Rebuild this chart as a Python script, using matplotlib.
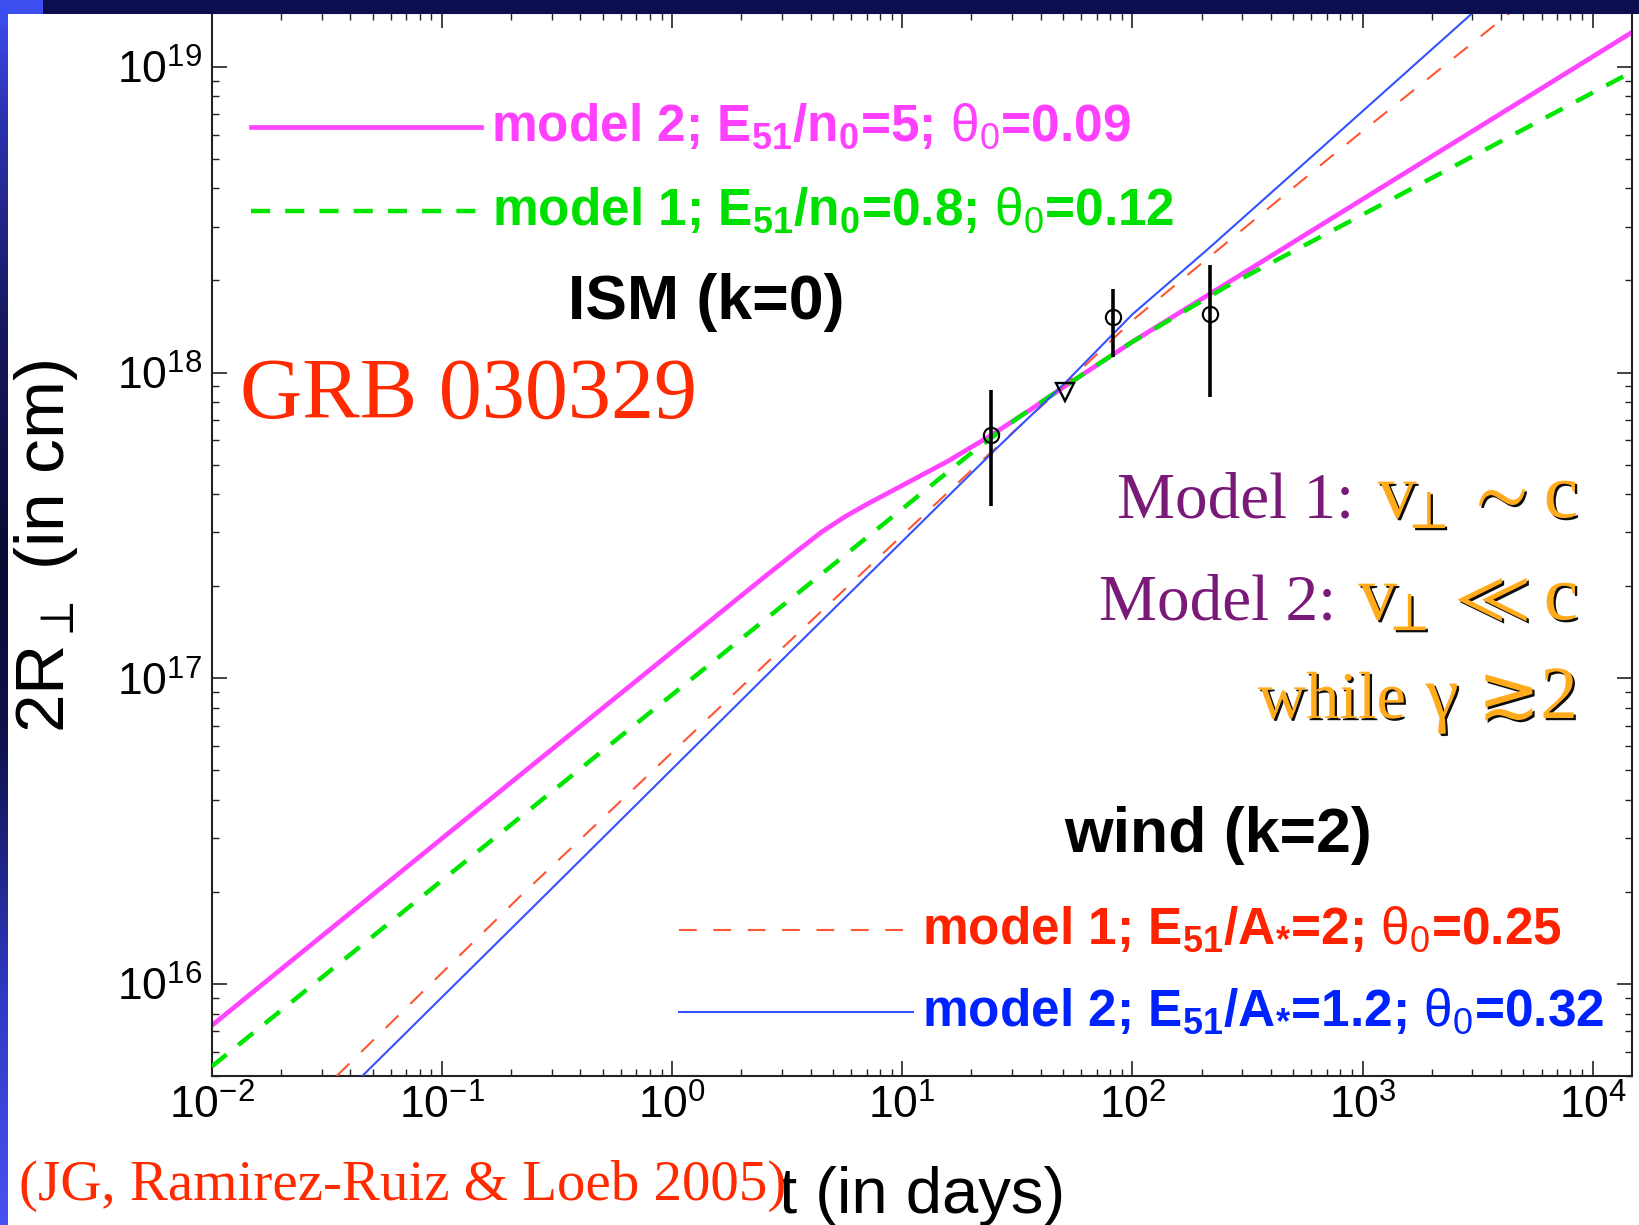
import numpy as np
import matplotlib
matplotlib.use('Agg')
import matplotlib.pyplot as plt
import matplotlib.patheffects as pe
from matplotlib.patches import Rectangle
from matplotlib.ticker import LogLocator, NullFormatter

plt.rcParams['font.family'] = ['Liberation Sans', 'DejaVu Sans']
plt.rcParams['mathtext.fontset'] = 'custom'
plt.rcParams['mathtext.rm'] = 'Liberation Serif'
plt.rcParams['mathtext.sf'] = 'Liberation Sans'
plt.rcParams['mathtext.default'] = 'regular'
plt.rcParams['mathtext.fallback'] = 'stix'

# ISM, model 2 (E51/n0=5, theta0=0.09): t in days, 2R in cm
t_ism2 = [0.01, 0.1, 1.0, 2.51, 3.55, 4.47, 5.62, 7.08, 10.0, 15.8, 24.4, 35.5, 50.9, 100, 210, 14900]
R_ism2 = [7.31e15, 2.99e16, 1.22e17, 2.14e17, 2.63e17, 3.01e17, 3.37e17, 3.72e17, 4.27e17,
          5.13e17, 6.24e17, 7.50e17, 9.02e17, 1.26e18, 1.78e18, 1.30e19]

# ISM, model 1 (E51/n0=0.8, theta0=0.12)
t_ism1 = [0.01, 0.1, 1.0, 10.0, 19.1, 31.6, 50.9, 100, 256, 1315, 14860]
R_ism1 = [5.37e15, 2.18e16, 8.83e16, 3.58e17, 5.31e17, 7.08e17, 9.02e17, 1.26e18, 1.91e18,
          3.66e18, 9.64e18]

# wind, model 1 (E51/A*=2, theta0=0.25)
t_wind1 = [0.0349, 0.218, 3.48, 19.7, 50.9, 100, 759, 4365]
R_wind1 = [5.0e15, 1.93e16, 1.39e17, 4.74e17, 9.12e17, 1.48e18, 5.21e18, 1.50e19]

# wind, model 2 (E51/A*=1.2, theta0=0.32)
t_wind2 = [0.0451, 0.267, 3.37, 26.1, 50.9, 100, 210, 631, 3006]
R_wind2 = [5.0e15, 1.88e16, 1.25e17, 5.71e17, 9.23e17, 1.55e18, 2.51e18, 5.25e18, 1.50e19]

# VLBI size measurements and the upper limit
t_obs = [24.3, 82.6, 217]
R_obs = [6.25e17, 1.52e18, 1.55e18]
R_lo = [3.66e17, 1.12e18, 8.34e17]
R_hi = [8.77e17, 1.88e18, 2.25e18]
t_lim = [50.9]
R_lim = [8.65e17]

xlim = (0.01, 1.486e4)
ylim = (5.0e15, 1.496e19)

c_pink = '#ff45ff'
c_green = '#00e600'
c_red = '#ff5533'
c_blue = '#3352ff'

fig = plt.figure(figsize=(16.39, 12.25), dpi=100)
fig.patch.set_facecolor('white')

# slide decoration: dark bar on top, blue strip on the left
fig.patches.append(Rectangle((0, 1 - 14 / 1225), 1, 14 / 1225, transform=fig.transFigure,
                             facecolor='#0c0f4f', edgecolor='none', zorder=0))
fig.patches.append(Rectangle((0, 1 - 14 / 1225), 43 / 1639, 14 / 1225, transform=fig.transFigure,
                             facecolor='#3c4ef0', edgecolor='none', zorder=0))
strip = fig.add_axes([0, 0, 8 / 1639, 1 - 14 / 1225])
stops = np.array([0.0, 0.08, 0.25, 0.45, 0.6, 0.8, 1.0])
cols = np.array([[0.24, 0.30, 0.93], [0.17, 0.20, 0.70], [0.09, 0.10, 0.38], [0.04, 0.04, 0.20],
                 [0.06, 0.07, 0.30], [0.18, 0.22, 0.75], [0.28, 0.32, 0.95]])
yy = np.linspace(0, 1, 300)
grad = np.stack([np.interp(yy, stops, cols[:, k]) for k in range(3)], axis=1)[:, None, :]
strip.imshow(grad, aspect='auto', extent=(0, 1, 0, 1))
strip.axis('off')

ax = fig.add_axes([211.7 / 1639, 1 - 1076 / 1225, 1420.6 / 1639, 1062.7 / 1225])
ax.set_xscale('log')
ax.set_yscale('log')

ax.plot(t_ism2, R_ism2, color=c_pink, lw=3.4, solid_capstyle='butt', zorder=2)
ax.plot(t_ism1, R_ism1, color=c_green, lw=3.2, linestyle=(0, (4.3, 3.4)), zorder=3)
ax.plot(t_wind1, R_wind1, color=c_red, lw=1.5, linestyle=(0, (8.5, 8)), zorder=3)
ax.plot(t_wind2, R_wind2, color=c_blue, lw=1.5, zorder=3)

yerr = [np.array(R_obs) - np.array(R_lo), np.array(R_hi) - np.array(R_obs)]
ax.errorbar(t_obs, R_obs, yerr=yerr, fmt='o', ms=11, mfc='none', mec='k', mew=1.5,
            ecolor='k', elinewidth=2.6, capsize=0, zorder=5)
ax.plot(t_lim, R_lim, 'v', ms=13, mfc='none', mec='k', mew=1.7, zorder=5)

ax.set_xlim(*xlim)
ax.set_ylim(*ylim)

for axis in (ax.xaxis, ax.yaxis):
    axis.set_major_locator(LogLocator(base=10, numticks=20))
    axis.set_minor_locator(LogLocator(base=10, subs=np.arange(2, 10), numticks=200))
    axis.set_minor_formatter(NullFormatter())
ax.tick_params(which='both', direction='in', top=True, right=True, colors='#222222')
ax.tick_params(which='major', length=10.8, width=1.2, labelsize=32, pad=7, labelcolor='black')
ax.tick_params(which='minor', length=5, width=1.0)
ax.tick_params(axis='x', which='major', pad=6)
for sp in ax.spines.values():
    sp.set_linewidth(1.5)
    sp.set_color('#222222')

# legend samples and labels
ax.plot([0.0279, 0.1897], [0.8926, 0.8926], transform=ax.transAxes, color=c_pink, lw=3.4)
ax.plot([0.0279, 0.1897], [0.8143, 0.8143], transform=ax.transAxes, color=c_green, lw=3.2,
        linestyle=(0, (4.3, 3.4)))
ax.plot([0.3289, 0.4895], [0.1374, 0.1374], transform=ax.transAxes, color=c_red, lw=1.5,
        linestyle=(0, (8.5, 8)))
ax.plot([0.3289, 0.4936], [0.0602, 0.0602], transform=ax.transAxes, color=c_blue, lw=1.5)

leg_kw = dict(transform=ax.transAxes, fontsize=37, fontweight='bold', va='baseline', ha='left')
ax.text(0.1966, 0.8798, r"model 2; $E_{51}$/$n_0$=5; $\mathsf{\theta_0}$=0.09", color='#ff40ff', **leg_kw)
ax.text(0.1973, 0.8015, r"model 1; $E_{51}$/$n_0$=0.8; $\mathsf{\theta_0}$=0.12", color='#00e000', **leg_kw)
ax.text(0.5, 0.1247, r"model 1; $E_{51}$/$A_{*}$=2; $\mathsf{\theta_0}$=0.25", color='#ff2200', **leg_kw)
ax.text(0.5, 0.0475, r"model 2; $E_{51}$/$A_{*}$=1.2; $\mathsf{\theta_0}$=0.32", color='#0022ff', **leg_kw)

ax.text(0.2508, 0.7123, "ISM (k=0)", transform=ax.transAxes, fontsize=45, fontweight='bold',
        va='baseline', ha='left', color='black')
ax.text(0.6, 0.2108, "wind (k=2)", transform=ax.transAxes, fontsize=45, fontweight='bold',
        va='baseline', ha='left', color='black')

ax.text(0.02, 0.6192, "GRB 030329", transform=ax.transAxes, fontsize=62, color='#ff2a00',
        family='Liberation Serif', va='baseline', ha='left')

# velocity notes on the right
purple = '#7a1a78'
orange = '#ffab1c'
shadow = [pe.SimplePatchShadow(offset=(1.6, -1.6), shadow_rgbFace='black', alpha=0.95), pe.Normal()]
serif = dict(transform=ax.transAxes, va='baseline', family='Liberation Serif')
ax.text(0.8041, 0.5251, "Model 1:", color=purple, fontsize=47, ha='right', **serif)
ax.text(0.9617, 0.5251, r"$v_{\!\!\perp}\sim c$", color=orange, fontsize=56, ha='right',
        path_effects=shadow, **serif)
ax.text(0.7914, 0.4291, "Model 2:", color=purple, fontsize=47, ha='right', **serif)
ax.text(0.9617, 0.4291, r"$v_{\!\!\perp}\ll c$", color=orange, fontsize=56, ha='right',
        path_effects=shadow, **serif)
ax.text(0.8407, 0.3369, "while", color=orange, fontsize=48, ha='right', path_effects=shadow, **serif)
ax.text(0.9617, 0.3369, "\u03b3 \u22732", color=orange, fontsize=54, ha='right',
        family=['Liberation Serif', 'DejaVu Sans'], path_effects=shadow,
        transform=ax.transAxes, va='baseline')

# axis titles and reference
fig.text(46 / 1639, 1 - 546 / 1225, r"2R$_{\perp}$ (in cm)", rotation=90, ha='center', va='center',
         fontsize=50, color='black')
fig.text(922 / 1639, 1 - 1213 / 1225, "t (in days)", ha='center', va='baseline', fontsize=47,
         color='black')
fig.text(19 / 1639, 1 - 1200 / 1225, "(JG, Ramirez-Ruiz & Loeb 2005)", ha='left', va='baseline',
         fontsize=41, color='#ff2a00', family='Liberation Serif')

fig.savefig('out.png', dpi=100)
